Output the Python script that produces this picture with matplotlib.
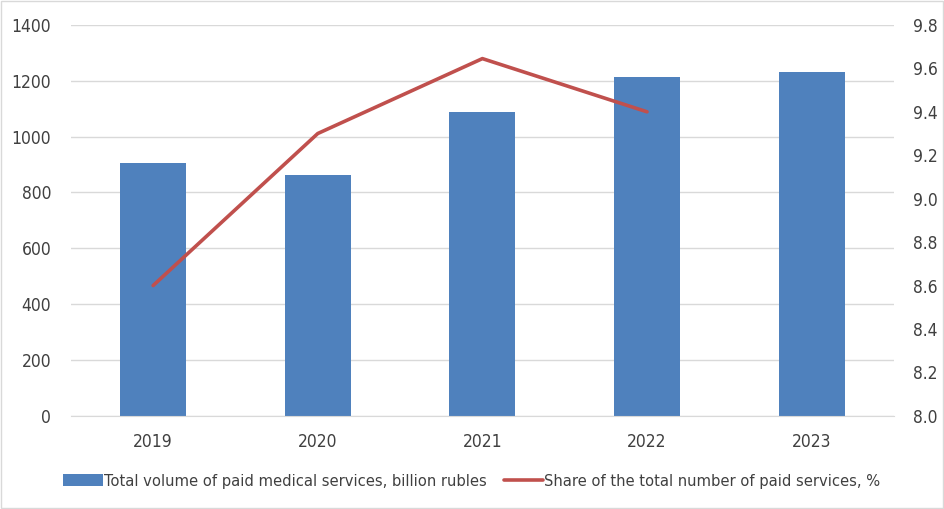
import matplotlib.pyplot as plt
import numpy as np

years = ['2019', '2020', '2021', '2022', '2023']
volume = [905, 862, 1090, 1215, 1230]
share_years = ['2019', '2020', '2021', '2022']
share = [8.6, 9.3, 9.645, 9.4]

plt.rcParams['font.family'] = ['DejaVu Sans']
plt.rcParams['font.stretch'] = 'condensed'

fig = plt.figure(figsize=(9.44, 5.09), dpi=100)
ax = fig.add_axes([0.075, 0.183, 0.872, 0.768])
ax2 = ax.twinx()

x = np.arange(len(years))
bars = ax.bar(x, volume, width=0.4, color='#4F81BD', zorder=2,
              label='Total volume of paid medical services, billion rubles')
ax.set_ylim(0, 1400)
ax.set_yticks(range(0, 1401, 200))
ax.set_xlim(-0.5, len(years) - 0.5)
ax.set_xticks(x)
ax.set_xticklabels(years)
ax.yaxis.grid(True, color='#D9D9D9', linewidth=1)
ax.set_axisbelow(True)

line, = ax2.plot(np.arange(len(share_years)), share, color='#C0504D', linewidth=2.6,
                 solid_capstyle='round', zorder=3,
                 label='Share of the total number of paid services, %')
ax2.set_ylim(8.0, 9.8)
ax2.set_yticks(np.arange(8.0, 9.81, 0.2))
ax2.set_yticklabels([f'{v:.1f}' for v in np.arange(8.0, 9.81, 0.2)])

for a in (ax, ax2):
    for s in a.spines.values():
        s.set_visible(False)
    a.tick_params(length=0, labelsize=12.5, colors='#404040')
ax.spines['bottom'].set_visible(True)
ax.spines['bottom'].set_color('#D9D9D9')
ax.tick_params(axis='x', pad=12)
ax.tick_params(axis='y', pad=14)
ax2.tick_params(axis='y', pad=14)

fig.legend([bars, line], [bars.get_label(), line.get_label()],
           loc='center', bbox_to_anchor=(0.5, 0.055), ncol=2, frameon=False,
           prop={'size': 11.8, 'stretch': 'condensed'},
           handlelength=2.4, handletextpad=0.1, columnspacing=1.0,
           labelcolor='#404040')

fig.patches.append(plt.Rectangle((0.001, 0.001), 0.998, 0.998, transform=fig.transFigure,
                                 fill=False, edgecolor='#D9D9D9', linewidth=1))

fig.savefig('out.png', dpi=100)
